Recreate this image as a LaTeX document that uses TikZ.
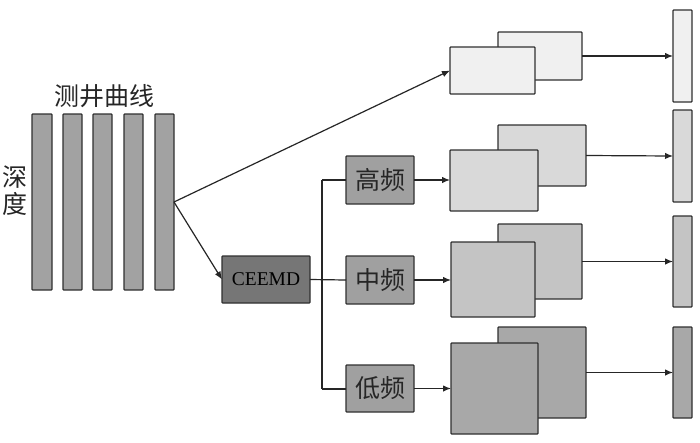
\documentclass[tikz,border=0pt]{standalone}
\usepackage{fontspec}
\setmainfont{Liberation Serif}
\newfontfamily\cjk{Noto Sans CJK SC}
\usetikzlibrary{arrows.meta}
\definecolor{edgec}{HTML}{303030}
\definecolor{barc}{HTML}{A2A2A2}
\definecolor{ceemdc}{HTML}{767676}
\definecolor{freqc}{HTML}{A0A0A0}
\definecolor{ga}{HTML}{F0F0F0}
\definecolor{gb}{HTML}{D9D9D9}
\definecolor{gc}{HTML}{C4C4C4}
\definecolor{gd}{HTML}{A8A8A8}
\tikzset{
  box/.style={draw=edgec, line width=1.2pt, rounded corners=0.8pt, anchor=north west, inner sep=0pt, outer sep=0pt},
  conn/.style={draw=black!85, line width=1.2pt},
  arr/.style={conn, -{Latex[length=8pt,width=6.5pt]}},
  lbl/.style={font=\cjk\fontsize{25}{28}\selectfont, text=black!85}
}
\begin{document}
\begin{tikzpicture}[x=1pt,y=-1pt]
\path[use as bounding box, fill=white] (0,0) rectangle (700,442);
% well-log bars
\node[box, fill=barc, minimum width=20pt, minimum height=176pt] (b1) at (32,114) {};
\node[box, fill=barc, minimum width=19pt, minimum height=176pt] (b2) at (63,114) {};
\node[box, fill=barc, minimum width=19pt, minimum height=176pt] (b3) at (93,114) {};
\node[box, fill=barc, minimum width=19pt, minimum height=176pt] (b4) at (124,114) {};
\node[box, fill=barc, minimum width=19pt, minimum height=176pt] (b5) at (155,114) {};
\node[lbl] (title) at (104,96) {测井曲线};
\node[lbl, align=center, font=\cjk\fontsize{25}{27}\selectfont] (depth) at (15,191) {深\\度};
% CEEMD
\node[box, fill=ceemdc, minimum width=88pt, minimum height=47pt, font=\fontsize{19.5}{22}\selectfont] (ceemd) at (222,256) {CEEMD};
% frequency boxes
\node[box, fill=freqc, minimum width=68pt, minimum height=48pt, lbl] (hf) at (346,156) {高频};
\node[box, fill=freqc, minimum width=68pt, minimum height=48pt, lbl] (mf) at (346,256) {中频};
\node[box, fill=freqc, minimum width=68pt, minimum height=47pt, lbl] (lf) at (346,365) {低频};
% feature map stacks (back then front)
\node[box, fill=ga, minimum width=84pt, minimum height=48pt] (k1) at (498,32) {};
\node[box, fill=ga, minimum width=85pt, minimum height=47pt] (f1) at (450,47) {};
\node[box, fill=gb, minimum width=88pt, minimum height=61pt] (k2) at (498,125) {};
\node[box, fill=gb, minimum width=88pt, minimum height=61pt] (f2) at (450,150) {};
\node[box, fill=gc, minimum width=84pt, minimum height=75pt] (k3) at (498,224) {};
\node[box, fill=gc, minimum width=84pt, minimum height=75pt] (f3) at (451,242) {};
\node[box, fill=gd, minimum width=88pt, minimum height=91pt] (k4) at (498,327) {};
\node[box, fill=gd, minimum width=87pt, minimum height=91pt] (f4) at (451,343) {};
% output bars
\node[box, fill=ga, minimum width=19pt, minimum height=92pt] (o1) at (673,10) {};
\node[box, fill=gb, minimum width=19pt, minimum height=92pt] (o2) at (673,110) {};
\node[box, fill=gc, minimum width=19pt, minimum height=91pt] (o3) at (673,216) {};
\node[box, fill=gd, minimum width=19pt, minimum height=91pt] (o4) at (673,327) {};
% connectors
\coordinate (split) at (322,280);
\coordinate (top) at (322,180);
\coordinate (bot) at (322,389);
\draw[arr] (b5.east) -- (f1.west);
\draw[arr] (b5.east) -- (ceemd.west);
\draw[conn] (ceemd.east) -- (mf.west);
\draw[conn] (top) -- (bot);
\draw[conn] (top) -- (hf.west);
\draw[conn] (bot) -- (lf.west |- bot);
\draw[arr] (hf.east) -- (f2.west |- hf.east);
\draw[arr] (mf.east) -- (f3.west |- mf.east);
\draw[arr] (lf.east) -- (f4.west |- lf.east);
\draw[arr] (k1.east) -- (o1.west);
\draw[arr] (k2.east) -- (o2.west);
\draw[arr] (k3.east) -- (o3.west);
\draw[arr] (k4.east) -- (o4.west);
\end{tikzpicture}
\end{document}
